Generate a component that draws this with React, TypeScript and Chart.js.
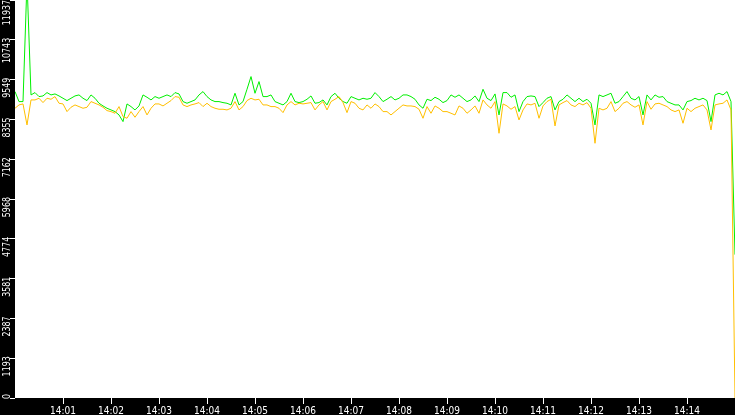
import React, { useEffect, useRef } from "react";
import { Chart, registerables } from "chart.js";

Chart.register(...registerables);

// one sample every 5 s, starting 14:00:00
const START_TIME = "14:00";
const SAMPLE_STEP_S = 5;

const X_TICK_LABELS = [
  "14:01", "14:02", "14:03", "14:04", "14:05", "14:06", "14:07",
  "14:08", "14:09", "14:10", "14:11", "14:12", "14:13", "14:14",
];

const Y_TICKS = [0, 1193, 2387, 3581, 4774, 5968, 7162, 8355, 9549, 10743, 11937];
const Y_MAX = 11937;

const GREEN_VALUES = [
  9190, 8890, 8890, 12500, 9090, 9160, 9040, 9060, 9160, 9090,
  9120, 9060, 8990, 8920, 8990, 9060, 9090, 8990, 8920, 9090,
  8990, 8840, 8760, 8690, 8640, 8590, 8490, 8290, 8820, 8740,
  8640, 8760, 9090, 9020, 8940, 9040, 8990, 9040, 9090, 9040,
  9160, 9120, 8890, 8840, 8890, 8940,
  9090, 9190, 9040, 8940, 8890, 8890, 8860, 8840, 8790, 9140,
  8790, 8890, 9260, 9640, 9140, 9490, 9040, 9040, 9090, 8890,
  8840, 8790, 8890, 9140, 8890, 8860, 8890, 8960, 9060, 8840,
  8860, 8940, 8790, 9040, 9140, 8990, 8890, 8840,
  9040, 8990, 8940, 8990, 8960, 8990, 9160, 9040, 8890, 8960,
  9040, 8940, 8990, 9090, 9090, 9040, 8960, 8790, 8690, 8960,
  8920, 9020, 8960, 8860, 8920, 9090, 9020, 9090,
  8990, 8890, 8940, 9060, 8890, 9260, 8990, 8920, 9120, 8490,
  9160, 9160, 9020, 9090, 8590, 8890, 9040, 9060, 9040, 8740,
  8860, 8990, 9040, 8640, 8890, 8960, 9090,
  8990, 8890, 8990, 8890, 8960, 8840, 8190, 9090, 9040, 9090,
  9140, 8840, 8890, 9040, 9190, 8990, 8940, 9040, 8490, 9090,
  8940, 9090, 9020, 9040, 8890, 8840, 8790, 8790, 8640, 8890,
  8920, 8990, 8940, 8990, 8920, 8290, 9090, 9140, 9090, 9190,
  8890, 4300,
];

const ORANGE_VALUES = [
  8690, 8790, 8820, 8190, 8940, 8940, 8990, 8860, 8990, 8960,
  9040, 8840, 8820, 8590, 8720, 8790, 8740, 8690, 8720, 8890,
  8840, 8790, 8720, 8620, 8590, 8540, 8740, 8440, 8390, 8590,
  8420, 8590, 8740, 8490, 8690, 8820, 8820, 8760, 8840, 8920,
  9040, 9020, 8790, 8740, 8790, 8820,
  8860, 8740, 8840, 8740, 8690, 8660, 8660, 8640, 8690, 8890,
  8640, 8740, 8920, 8990, 8940, 8960, 8790, 8790, 8740, 8740,
  8690, 8560, 8790, 8890, 8790, 8840, 8820, 8840, 8860, 8640,
  8790, 8890, 8640, 8890, 8960, 9040, 8860, 8560,
  8890, 8840, 8690, 8640, 8790, 8690, 8820, 8740, 8590, 8590,
  8490, 8590, 8690, 8790, 8760, 8760, 8740, 8660, 8390, 8740,
  8540, 8760, 8690, 8590, 8590, 8540, 8490, 8760,
  8690, 8540, 8640, 8760, 8540, 8940, 8790, 8690, 8890, 7940,
  8820, 8760, 8660, 8740, 8340, 8640, 8820, 8790, 8840, 8390,
  8760, 8890, 8960, 8160, 8790, 8860, 8920,
  8790, 8740, 8840, 8790, 8860, 8690, 7640, 8690, 8640, 8690,
  8890, 8590, 8690, 8840, 8890, 8790, 8720, 8790, 8190, 8890,
  8660, 8820, 8840, 8790, 8740, 8640, 8590, 8640, 8240, 8690,
  8590, 8690, 8740, 8790, 8640, 8040, 8790, 8820, 8840, 8940,
  8640, 0,
];

const GREEN = "#00f000";
const ORANGE = "#ffbf00";
const Y_LABEL_SQUEEZE = 0.72;
const X_LABEL_SQUEEZE = 0.9;

function minutesOf(t: string): number {
  const [h, m] = t.split(":").map(Number);
  return h * 60 + m;
}

// seconds since the start of the window
function secondsOf(t: string): number {
  return (minutesOf(t) - minutesOf(START_TIME)) * 60;
}

function toPoints(values: number[]) {
  return values.map((v, i) => ({ x: i * SAMPLE_STEP_S, y: v }));
}

const framePlugin = {
  id: "frame",
  beforeDraw(chart: Chart) {
    const { ctx, chartArea: a } = chart;
    ctx.save();
    ctx.fillStyle = "#fff";
    ctx.fillRect(a.left, a.top, a.right - a.left, a.bottom - a.top);
    ctx.restore();
  },
  afterDraw(chart: Chart) {
    const { ctx, chartArea: a, scales } = chart;
    const xs = scales.x;
    const ys = scales.y;
    ctx.save();
    ctx.fillStyle = "#fff";

    ctx.font = "10px 'DejaVu Sans'";
    ctx.textAlign = "center";
    ctx.textBaseline = "alphabetic";
    X_TICK_LABELS.forEach((lbl) => {
      const px = Math.round(xs.getPixelForValue(secondsOf(lbl)));
      ctx.save();
      ctx.translate(px, a.bottom + 16);
      ctx.scale(X_LABEL_SQUEEZE, 1);
      ctx.fillText(lbl, 0, 0);
      ctx.restore();
    });

    ctx.font = "11px 'DejaVu Sans'";
    ctx.textAlign = "left";
    Y_TICKS.forEach((v) => {
      const label = String(v);
      const w = ctx.measureText(label).width * Y_LABEL_SQUEEZE;
      const py = ys.getPixelForValue(v);
      let top = py - 2;
      top = Math.min(top, a.bottom + 1 - w);
      top = Math.max(top, a.top);
      ctx.save();
      ctx.translate(a.left - 5, top + w);
      ctx.rotate(-Math.PI / 2);
      ctx.scale(Y_LABEL_SQUEEZE, 1);
      ctx.fillText(label, 0, 0);
      ctx.restore();
    });
    ctx.restore();
  },
};

const App: React.FC = () => {
  const canvasRef = useRef<HTMLCanvasElement>(null);

  useEffect(() => {
    if (!canvasRef.current) return;
    const chart = new Chart(canvasRef.current, {
      type: "line",
      data: {
        datasets: [
          {
            label: "orange",
            data: toPoints(ORANGE_VALUES),
            borderColor: ORANGE,
            borderWidth: 1,
            pointRadius: 0,
            tension: 0,
          },
          {
            label: "green",
            data: toPoints(GREEN_VALUES),
            borderColor: GREEN,
            borderWidth: 1,
            pointRadius: 0,
            tension: 0,
          },
        ],
      },
      options: {
        responsive: true,
        maintainAspectRatio: false,
        animation: false,
        devicePixelRatio: 1,
        layout: { padding: 0 },
        plugins: { legend: { display: false }, tooltip: { enabled: false } },
        scales: {
          x: {
            type: "linear",
            min: 0,
            max: (GREEN_VALUES.length - 1) * SAMPLE_STEP_S,
            afterBuildTicks: (s: any) => {
              s.ticks = X_TICK_LABELS.map((l) => ({ value: secondsOf(l) }));
            },
            afterFit: (s: any) => {
              s.height = 17;
            },
            ticks: { display: false },
            grid: { drawOnChartArea: false, drawTicks: true, tickLength: 6, tickColor: "#fff" },
            border: { display: false },
          },
          y: {
            type: "linear",
            min: 0,
            max: Y_MAX,
            afterBuildTicks: (s: any) => {
              s.ticks = Y_TICKS.map((v) => ({ value: v }));
            },
            afterFit: (s: any) => {
              s.width = 15;
            },
            ticks: { display: false },
            grid: { drawOnChartArea: false, drawTicks: true, tickLength: 5, tickColor: "#fff" },
            border: { display: false },
          },
        },
      },
      plugins: [framePlugin],
    });
    return () => chart.destroy();
  }, []);

  return (
    <div style={{ position: "fixed", left: 0, top: 0, width: 735, height: 415, background: "#000" }}>
      <canvas ref={canvasRef} />
    </div>
  );
};

export default App;
